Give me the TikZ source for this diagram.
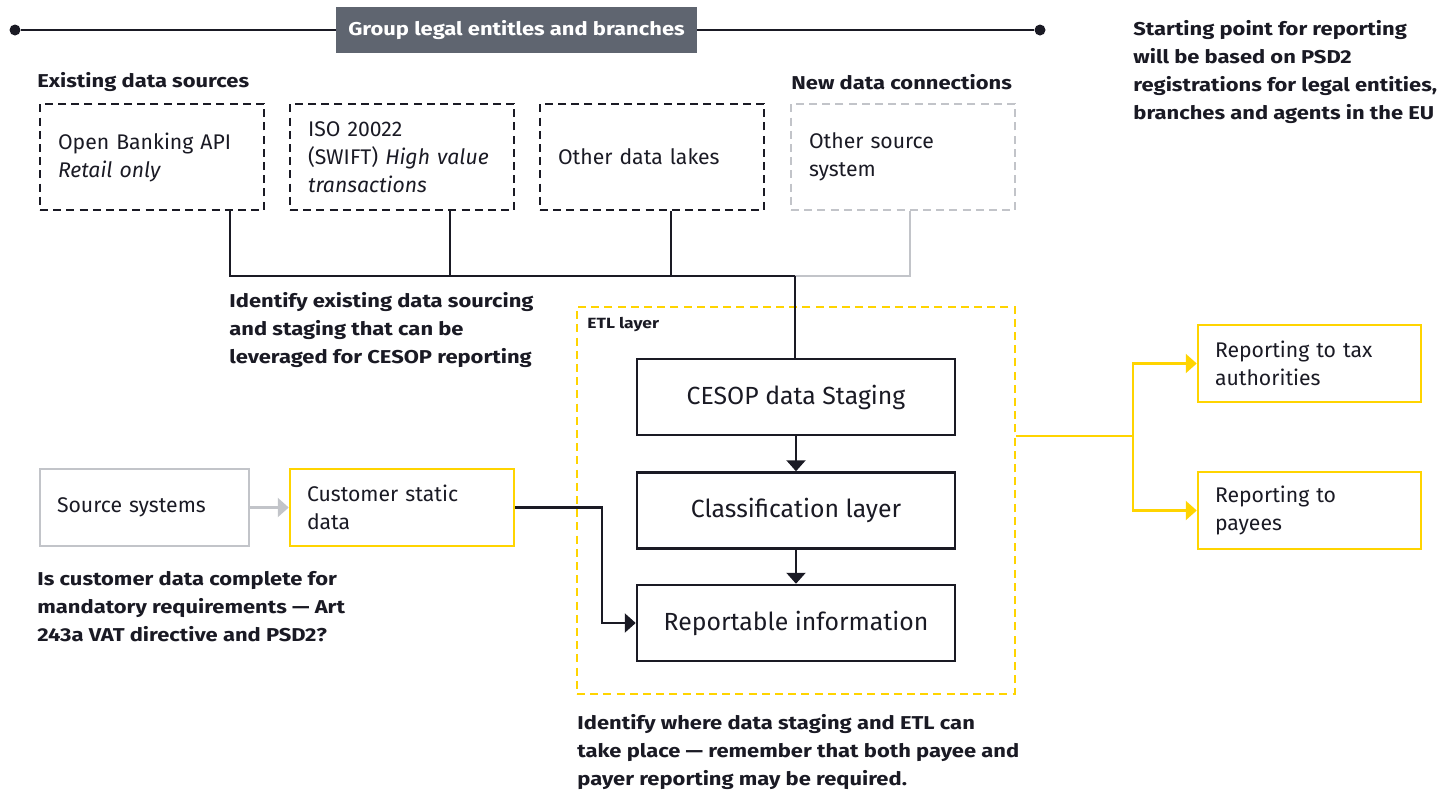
\documentclass[tikz,border=0pt]{standalone}
\usepackage{fontspec}
\setmainfont{Fira Sans}[BoldFeatures={FakeStretch=1.18}]
\usetikzlibrary{arrows.meta,positioning}
\definecolor{eydark}{HTML}{1A1A24}
\definecolor{eygray}{HTML}{C2C4C9}
\definecolor{eyyellow}{HTML}{FFD400}
\definecolor{eyslate}{HTML}{5F6570}
\tikzset{
	srcbox/.style={draw=eydark, line width=1.25pt, dash pattern=on 4pt off 2.6pt, minimum width=112pt, minimum height=53pt, text width=94pt, inner xsep=9pt, align=left, font=\fontsize{10.6}{14}\selectfont},
	stagebox/.style={draw=eydark, line width=1.25pt, minimum width=159pt, minimum height=38pt, font=\fontsize{12.4}{14}\selectfont},
	sidebox/.style={line width=1.25pt, minimum width=111.5pt, minimum height=38.5pt, text width=94.5pt, inner xsep=8.5pt, align=left, font=\fontsize{10.6}{14}\selectfont},
	note/.style={anchor=west, align=left, inner sep=0pt, font=\bfseries\fontsize{9.3}{14}\selectfont},
	flow/.style={line width=1.1pt, -{Triangle[width=9.5pt, length=5.5pt]}},
	}

\begin{document}
\begin{tikzpicture}[x=0.5pt, y=-0.5pt, color=eydark, text=eydark]
	\useasboundingbox (0,0) rectangle (1451,794);

	% top bar with title
	\node[fill=eyslate, text=white, minimum width=180.5pt, minimum height=23pt, font=\bfseries\fontsize{9.3}{14}\selectfont] (title) at (516.5,30) {Group legal entitles and branches};
	\node[circle, fill=eydark, inner sep=0pt, minimum size=5.5pt] (ldot) at (15,30) {};
	\node[circle, fill=eydark, inner sep=0pt, minimum size=5.5pt] (rdot) at (1040,30) {};
	\draw[line width=1.1pt] (ldot) -- (title.west);
	\draw[line width=1.1pt] (title.east) -- (rdot);

	% headings
	\node[note] (existing) at (37,82) {Existing data sources};
	\node[note] (newconn) at (791,82) {New data connections};
	\node[note] (startnote) at (1133,72) {Starting point for reporting\\will be based on PSD2\\registrations for legal entities,\\branches and agents in the EU};

	% data sources
	\node[srcbox] (openapi) at (152,157) {Open Banking API\\\textit{Retail only}};
	\node[srcbox] (iso) at (402,157) {ISO 20022\\(SWIFT) \textit{High value transactions}};
	\node[srcbox] (lakes) at (652,157) {Other data lakes};
	\node[srcbox, draw=eygray] (othersrc) at (903,157) {Other source\\system};

	% bus into staging
	\coordinate (j1) at (230,276);
	\coordinate (j2) at (450,276);
	\coordinate (j3) at (671,276);
	\coordinate (j4) at (910,276);
	\coordinate (bus) at (795,276);
	\draw[line width=1.1pt] (openapi.south -| j1) -- (j1) -- (bus);
	\draw[line width=1.1pt] (iso.south -| j2) -- (j2);
	\draw[line width=1.1pt] (lakes.south -| j3) -- (j3);
	\draw[line width=1.1pt, eygray] (othersrc.south -| j4) -- (j4) -- (bus);
	\node[note] (sourcing) at (229,330.5) {Identify existing data sourcing\\and staging that can be\\leveraged for CESOP reporting};

	% ETL layer
	\node[draw=eyyellow, line width=1.1pt, dash pattern=on 4pt off 2.6pt, minimum width=219pt, minimum height=193.5pt] (etl) at (796,500.5) {};
	\node[anchor=west, inner sep=0pt, font=\bfseries\fontsize{7.4}{10}\selectfont] (etllabel) at (587,325) {ETL layer};
	\node[stagebox] (staging) at (796,397) {CESOP data Staging};
	\node[stagebox] (classif) at (796,510.5) {Classification layer};
	\node[stagebox] (reportable) at (796,623) {Reportable information};
	\draw[line width=1.1pt] (bus) -- (bus |- staging.north);
	\draw[flow] (staging) -- (classif);
	\draw[flow] (classif) -- (reportable);
	\node[note] (etlnote) at (577,752) {Identify where data staging and ETL can\\take place --- remember that both payee and\\payer reporting may be required.};

	% customer data
	\node[sidebox, draw=eygray, minimum width=104.5pt, text width=87.5pt] (sourcesys) at (144.5,507.5) {Source systems};
	\node[sidebox, draw=eyyellow, minimum width=112pt, text width=95pt] (custdata) at (402,507.5) {Customer static\\data};
	\draw[flow, eygray] (sourcesys) -- (custdata);
	\coordinate (xc) at (602,560);
	\draw[flow] (custdata.east) -| (xc) |- (reportable.west);
	\node[note] (custnote) at (37,607) {Is customer data complete for\\mandatory requirements --- Art\\243a VAT directive and PSD2?};

	% reporting outputs
	\node[sidebox, draw=eyyellow] (taxauth) at (1309.5,363.5) {Reporting to tax\\authorities};
	\node[sidebox, draw=eyyellow] (payees) at (1309.5,510.5) {Reporting to\\payees};
	\coordinate (fork) at (1133,436);
	\draw[line width=1.1pt, eyyellow] (etl.east |- fork) -- (fork);
	\draw[flow, eyyellow] (fork) |- (taxauth.west);
	\draw[flow, eyyellow] (fork) |- (payees.west);

\end{tikzpicture}
\end{document}
